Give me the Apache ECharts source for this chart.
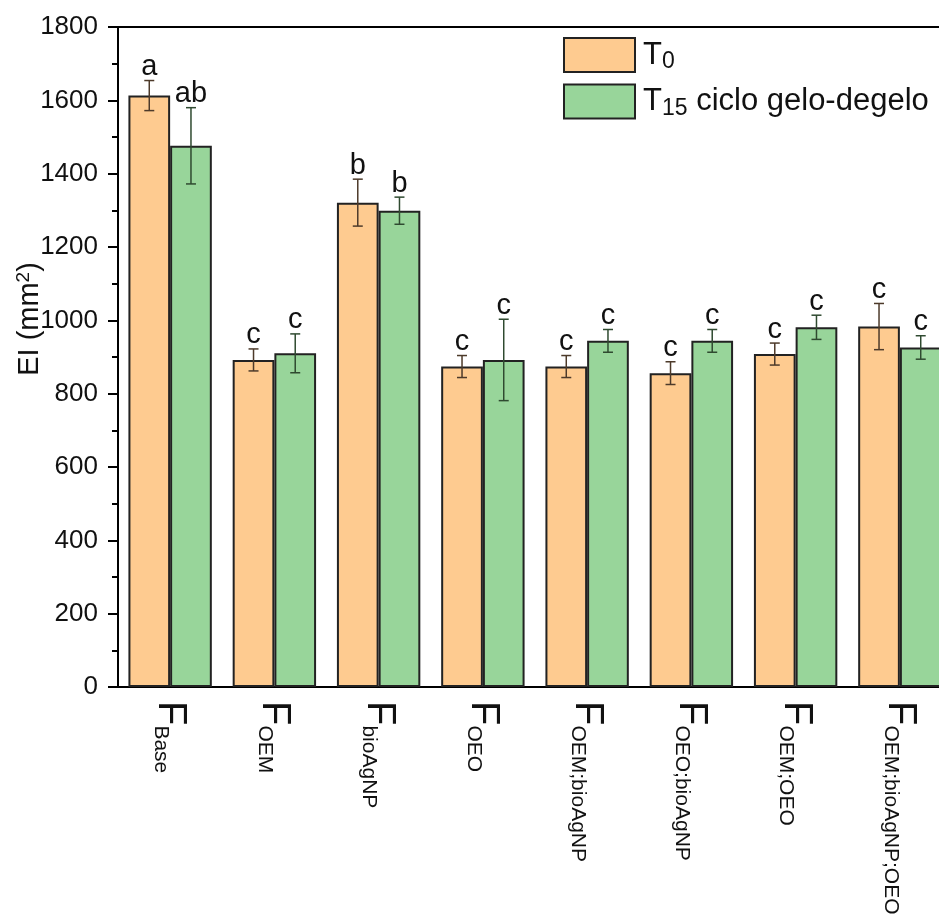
<!DOCTYPE html>
<html>
<head>
<meta charset="utf-8">
<script src="https://cdn.jsdelivr.net/npm/echarts@6/dist/echarts.min.js"></script>
<style>
html, body { margin: 0; padding: 0; background: #fff; }
#chart { width: 939px; height: 921px; }
</style>
</head>
<body>
<div id="chart"></div>
<script>
var categories = ['Base', 'OEM', 'bioAgNP', 'OEO', 'OEM;bioAgNP', 'OEO;bioAgNP', 'OEM;OEO', 'OEM;bioAgNP;OEO'];
var t0 = [1613, 892, 1321, 874, 874, 856, 908, 983];
var t0Err = [41, 30, 64, 30, 30, 31, 30, 63];
var t0Letters = ['a', 'c', 'b', 'c', 'c', 'c', 'c', 'c'];
var t15 = [1476, 910, 1299, 892, 944, 944, 981, 926];
var t15Err = [104, 53, 37, 111, 31, 31, 33, 32];
var t15Letters = ['ab', 'c', 'b', 'c', 'c', 'c', 'c', 'c'];
var seriesNames = ['T0', 'T15 ciclo gelo-degelo'];

var font = '"Liberation Sans", Arial, sans-serif';

function errorBars(vals, errs, letters, side, color) {
    return {
        type: 'custom',
        z: 5,
        encode: { x: 0, y: 1 },
        data: vals.map(function (v, i) { return [i, v, errs[i]]; }),
        renderItem: function (params, api) {
            var i = api.value(0), v = api.value(1), e = api.value(2);
            var band = api.size([1, 0])[0];
            var top = api.coord([i, v + e]);
            var bot = api.coord([i, v - e]);
            var x = top[0] + side * band * 0.2;
            var cap = 5;
            var st = { stroke: color, lineWidth: 1.5 };
            return {
                type: 'group',
                children: [
                    { type: 'line', shape: { x1: x, y1: top[1], x2: x, y2: bot[1] }, style: st },
                    { type: 'line', shape: { x1: x - cap, y1: top[1], x2: x + cap, y2: top[1] }, style: st },
                    { type: 'line', shape: { x1: x - cap, y1: bot[1], x2: x + cap, y2: bot[1] }, style: st },
                    {
                        type: 'text', x: x, y: top[1] + 1,
                        style: {
                            text: letters[params.dataIndex], align: 'center', verticalAlign: 'bottom',
                            fontSize: 29, fontFamily: font, fill: '#111'
                        }
                    }
                ]
            };
        }
    };
}

var mychart = echarts.init(document.getElementById('chart'));
mychart.setOption({
    animation: false,
    backgroundColor: '#fff',
    grid: {
        left: 118, top: 27, width: 834, bottom: 234,
        outerBoundsMode: 'none',
        containLabel: false,
        show: true, borderColor: '#000', borderWidth: 2
    },
    legend: {
        data: seriesNames,
        orient: 'vertical',
        left: 558, top: 32,
        itemWidth: 71, itemHeight: 34, itemGap: 10,
        icon: 'rect',
        formatter: function (n) {
            return n === 'T0' ? '{t|T}{s|0}' : '{t|T}{s|15}{t| ciclo gelo-degelo}';
        },
        textStyle: {
            padding: [0, 0, 0, 3],
            rich: {
                t: { fontSize: 31, fontFamily: font, color: '#111' },
                s: { fontSize: 23, fontFamily: font, color: '#111', padding: [14, 0, 0, 0] }
            }
        }
    },
    xAxis: [{
        type: 'category',
        data: categories,
        position: 'bottom',
        axisLine: { lineStyle: { color: '#000', width: 2 } },
        axisTick: { alignWithLabel: true, length: 10, lineStyle: { color: '#000', width: 2 } },
        axisLabel: {
            interval: 0,
            rotate: -90,
            margin: 14,
            formatter: function (v) { return '{f|F}{s|' + v + '}'; },
            rich: {
                f: { fontSize: 40, fontFamily: font, color: '#111' },
                s: { fontSize: 21, fontFamily: font, color: '#111', verticalAlign: 'bottom' }
            }
        }
    }, {
        type: 'category',
        data: categories,
        position: 'bottom',
        axisLine: { show: false },
        axisTick: { length: 5, lineStyle: { color: '#000', width: 2 } },
        axisLabel: { show: false }
    }],
    yAxis: {
        type: 'value',
        min: 0, max: 1800, interval: 200,
        axisLine: { show: true, lineStyle: { color: '#000', width: 2 } },
        axisTick: { show: true, length: 10, lineStyle: { color: '#000', width: 2 } },
        minorTick: { show: true, splitNumber: 2, length: 6, lineStyle: { color: '#000', width: 2 } },
        splitLine: { show: false },
        axisLabel: {
            fontSize: 26, fontFamily: font, color: '#111', margin: 20,
            formatter: function (v) { return String(v); }
        },
        name: '{n|EI (mm}{p|2}{n|)}',
        nameLocation: 'middle',
        nameGap: 72,
        nameMoveOverlap: false,
        nameTextStyle: {
            padding: [0, 0, 0, 76],
            rich: {
                n: { fontSize: 29, fontFamily: font, color: '#111' },
                p: { fontSize: 19, fontFamily: font, color: '#111', padding: [0, 0, 13, 0] }
            }
        }
    },
    series: [{
        name: seriesNames[0],
        type: 'bar',
        data: t0,
        barWidth: '40%',
        barGap: '0%',
        itemStyle: { color: '#FECB90', borderColor: '#222', borderWidth: 2 }
    }, {
        name: seriesNames[1],
        type: 'bar',
        data: t15,
        barWidth: '40%',
        barGap: '0%',
        itemStyle: { color: '#98D59A', borderColor: '#222', borderWidth: 2 }
    },
    errorBars(t0, t0Err, t0Letters, -1, '#4d3a2a'),
    errorBars(t15, t15Err, t15Letters, 1, '#2f4a30')]
});
</script>
</body>
</html>
